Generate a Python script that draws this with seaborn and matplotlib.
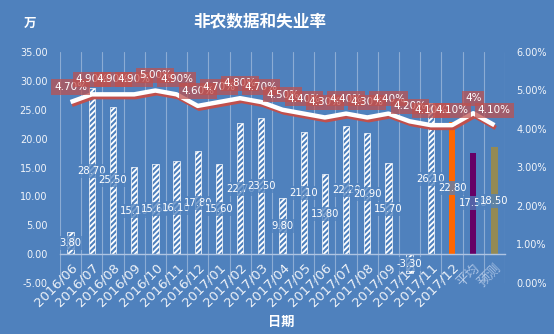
import numpy as np
import pandas as pd
import matplotlib
matplotlib.use("Agg")
import matplotlib.pyplot as plt
import matplotlib.patheffects as pe
import seaborn as sns

# ---- data -------------------------------------------------------------
categories = ["2016/06", "2016/07", "2016/08", "2016/09", "2016/10", "2016/11",
              "2016/12", "2017/01", "2017/02", "2017/03", "2017/04", "2017/05",
              "2017/06", "2017/07", "2017/08", "2017/09", "2017/10", "2017/11",
              "2017/12", "平均", "预测"]
payrolls = [3.80, 28.70, 25.50, 15.10, 15.60, 16.10, 17.80, 15.60, 22.70, 23.50,
            9.80, 21.10, 13.80, 22.20, 20.90, 15.70, -3.30, 26.10, 22.80, 17.58, 18.50]
unemployment = [4.70, 4.90, 4.90, 4.90, 5.00, 4.90, 4.60, 4.70, 4.80, 4.70,
                4.50, 4.40, 4.30, 4.40, 4.30, 4.40, 4.20, 4.10, 4.10, 4.41, 4.10]
rate_decimals = [2] * 19 + [0, 2]
left_ticks = [-5, 0, 5, 10, 15, 20, 25, 30, 35]
right_ticks = [0, 1, 2, 3, 4, 5, 6]

# ---- style ------------------------------------------------------------
BG = "#4F81BD"
sns.set_style("white")
plt.rcParams["font.family"] = ["DejaVu Sans", "Noto Sans CJK SC"]
plt.rcParams["hatch.linewidth"] = 1.3

bar_colors = ["white"] * 18 + ["#FF6600", "#660066", "#948A54"]
palette = dict(zip(categories, bar_colors))

fig = plt.figure(figsize=(5.54, 3.34), dpi=100, facecolor=BG)
ax = fig.add_axes([60 / 554, 1 - 283 / 334, 445 / 554, 231 / 334])
ax.set_facecolor(BG)

df = pd.DataFrame({"month": categories, "value": payrolls})
sns.barplot(data=df, x="month", y="value", hue="month", order=categories,
            hue_order=categories, palette=palette, legend=False, width=0.3,
            saturation=1, ax=ax, zorder=2)

# monthly bars drawn as white diagonal hatching
for i, cont in enumerate(ax.containers):
    for p in cont.patches:
        if i < 18:
            p.set_facecolor("none")
            p.set_edgecolor("white")
            p.set_hatch("//////")
            p.set_linewidth(0.5)
        else:
            p.set_edgecolor("none")

ax.set_xlim(-0.5, len(categories) - 0.5)
ax.set_ylim(-5, 35)
ax.set_yticks(left_ticks)
ax.set_yticklabels([f"{t:.2f}" for t in left_ticks])
ax.set_xlabel("")
ax.set_ylabel("")

for s in ["top", "right", "left"]:
    ax.spines[s].set_visible(False)
ax.spines["bottom"].set_position(("data", 0))
ax.spines["bottom"].set_color("#AFC4E2")
ax.spines["bottom"].set_linewidth(1.0)

ax.tick_params(axis="y", length=0, pad=9, labelsize=7, labelcolor="#F2F5FA")
ax.tick_params(axis="x", length=0, pad=5, labelsize=9.5, labelcolor="#EEF2F8")
for k, lab in enumerate(ax.get_xticklabels()):
    lab.set_rotation(45)
    lab.set_ha("right")
    lab.set_rotation_mode("anchor")
    if k >= 19:
        lab.set_color("#A9C2E4")

# vertical gridlines at category boundaries
ax.set_xticks(np.arange(-0.5, len(categories)), minor=True)
ax.tick_params(axis="x", which="minor", length=0)
ax.grid(True, which="minor", axis="x", color="white", alpha=0.35, linewidth=0.8)
ax.grid(False, which="major")

# bar value labels
for i, v in enumerate(payrolls):
    ax.text(i, v / 2, f"{v:.2f}", ha="center", va="center", fontsize=7.2,
            color="white", zorder=5,
            bbox=dict(boxstyle="square,pad=0.2", fc=BG, ec="none", alpha=0.75))

# unemployment rate on the secondary axis
ax2 = ax.twinx()
xs = np.arange(len(categories))
sns.lineplot(x=xs, y=unemployment, ax=ax2, color="white", linewidth=3.2,
             sort=False, zorder=3)
line = ax2.lines[0]
line.set_solid_capstyle("butt")
line.set_solid_joinstyle("round")
line.set_path_effects([
    pe.SimpleLineShadow(offset=(1, -2), shadow_color="#C0504D", alpha=1.0),
    pe.Normal(),
])
ax2.set_ylim(0, 6)
ax2.set_xlim(-0.5, len(categories) - 0.5)
ax2.set_yticks(right_ticks)
ax2.set_yticklabels([f"{t:.2f}%" for t in right_ticks])
ax2.tick_params(axis="y", length=0, pad=8, labelsize=7, labelcolor="#F2F5FA")
for s in ax2.spines.values():
    s.set_visible(False)

for i, (v, d) in enumerate(zip(unemployment, rate_decimals)):
    ax2.annotate(f"{v:.{d}f}%", (i, v), xytext=(0, 15), textcoords="offset pixels",
                 ha="center", va="center", fontsize=7.5, color="white", zorder=6,
                 bbox=dict(boxstyle="square,pad=0.25", fc="#C0504D", ec="none",
                           alpha=0.72))

# titles
fig.text(260 / 554, 1 - 21 / 334, "非农数据和失业率", ha="center", va="center",
         fontsize=12, fontweight="bold", color="white")
fig.text(30 / 554, 1 - 23 / 334, "万", ha="center", va="center",
         fontsize=9, fontweight="bold", color="white")
fig.text(281 / 554, 1 - 322 / 334, "日期", ha="center", va="center",
         fontsize=9.5, fontweight="bold", color="white")

fig.savefig("out.png", dpi=100, facecolor=BG)
